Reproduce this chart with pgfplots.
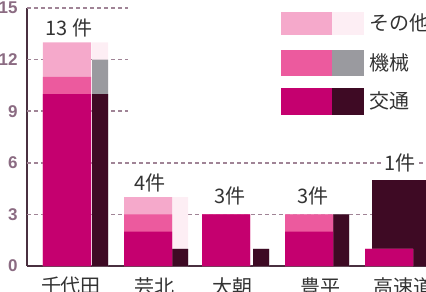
\documentclass[border=0pt]{standalone}
\usepackage{fontspec}
\setmainfont{Noto Sans CJK JP}
\newfontfamily\tickfont{Liberation Sans}
\usepackage{pgfplots}
\pgfplotsset{compat=1.18}
\definecolor{mag}{HTML}{C5006F}
\definecolor{pnk}{HTML}{EC5A9E}
\definecolor{lpk}{HTML}{F5A9CB}
\definecolor{fpk}{HTML}{FDEEF4}
\definecolor{dk}{HTML}{3E0A24}
\definecolor{gry}{HTML}{9A9A9F}
\definecolor{axc}{HTML}{4A3040}
\definecolor{gridc}{HTML}{A08496}
\definecolor{tickc}{HTML}{8B6B82}
\definecolor{txt}{HTML}{333333}
\begin{document}
\begin{tikzpicture}
\useasboundingbox (0pt,0pt) rectangle (426pt,292pt);
\clip (0pt,0pt) rectangle (426pt,292pt);
\begin{axis}[
  at={(27pt,26pt)}, anchor=south west, scale only axis,
  width=399pt, height=258pt,
  xmin=27, xmax=426, ymin=0, ymax=15,
  clip=false,
  axis lines*=left,
  axis line style={draw=axc, line width=2pt},
  ytick={0,3,6,9,12,15},
  xtick={71,154,232,320,403},
  xticklabels={千代田,芸北,大朝,豊平,高速道},
  major tick length=0pt,
  /pgf/number format/assume math mode=true,
  yticklabel style={font=\tickfont\bfseries\fontsize{17}{17}\selectfont, text=tickc, anchor=east, xshift=-6pt},
  xticklabel style={font=\fontsize{20}{20}\selectfont, text=txt, anchor=north, inner sep=0pt, yshift=-11pt},
  grid line/.style={gridc, line width=1.5pt, dash pattern=on 4pt off 3pt},
]
% grid lines
\addplot[grid line] coordinates {(27,3) (426,3)};
\addplot[grid line] coordinates {(27,6) (426,6)};
\addplot[grid line] coordinates {(27,9) (128,9)};
\addplot[grid line] coordinates {(27,12) (128,12)};
\addplot[grid line] coordinates {(27,15) (128,15)};
% right-side bars (cumulative, drawn top segment first)
\addplot[ybar, bar width=16, bar shift=0pt, fill=fpk, draw=none] coordinates {(100,13) (180,4) (261,1) (341,3)};
\addplot[ybar, bar width=16, bar shift=0pt, fill=gry, draw=none] coordinates {(100,12) (180,1) (261,1) (341,3)};
\addplot[ybar, bar width=16, bar shift=0pt, fill=dk, draw=none] coordinates {(100,10) (180,1) (261,1) (341,3)};
\addplot[ybar, bar width=56, bar shift=0pt, fill=dk, draw=none] coordinates {(400,5)};
% left-side stacked bars (cumulative)
\addplot[ybar, bar width=48, bar shift=0pt, fill=lpk, draw=none] coordinates {(67,13) (148,4) (226,3) (309,3) (389,1)};
\addplot[ybar, bar width=48, bar shift=0pt, fill=pnk, draw=none] coordinates {(67,11) (148,3) (226,3) (309,3) (389,1)};
\addplot[ybar, bar width=48, bar shift=0pt, fill=mag, draw=none] coordinates {(67,10) (148,2) (226,3) (309,2) (389,1)};
% count labels
\node[text=txt, font=\fontsize{20}{20}\selectfont] at (axis cs:69,13.84) {13 件};
\node[text=txt, font=\fontsize{20}{20}\selectfont] at (axis cs:150,4.83) {4件};
\node[text=txt, font=\fontsize{20}{20}\selectfont] at (axis cs:230,4.07) {3件};
\node[text=txt, font=\fontsize{20}{20}\selectfont] at (axis cs:313,4.07) {3件};
\node[text=txt, font=\fontsize{20}{20}\selectfont, fill=white, inner sep=1pt] at (axis cs:400,6.0) {1件};
\end{axis}
% legend
\fill[lpk] (281pt,280pt) rectangle (332pt,257pt);
\fill[fpk] (332pt,280pt) rectangle (364pt,257pt);
\fill[pnk] (281pt,242pt) rectangle (332pt,216pt);
\fill[gry] (332pt,242pt) rectangle (364pt,216pt);
\fill[mag] (281pt,204pt) rectangle (332pt,177pt);
\fill[dk] (332pt,204pt) rectangle (364pt,177pt);
\node[anchor=west, inner sep=0pt, text=txt, font=\fontsize{20}{20}\selectfont] at (369pt,269pt) {その他};
\node[anchor=west, inner sep=0pt, text=txt, font=\fontsize{20}{20}\selectfont] at (369pt,229pt) {機械};
\node[anchor=west, inner sep=0pt, text=txt, font=\fontsize{20}{20}\selectfont] at (369pt,191pt) {交通};
\end{tikzpicture}
\end{document}
